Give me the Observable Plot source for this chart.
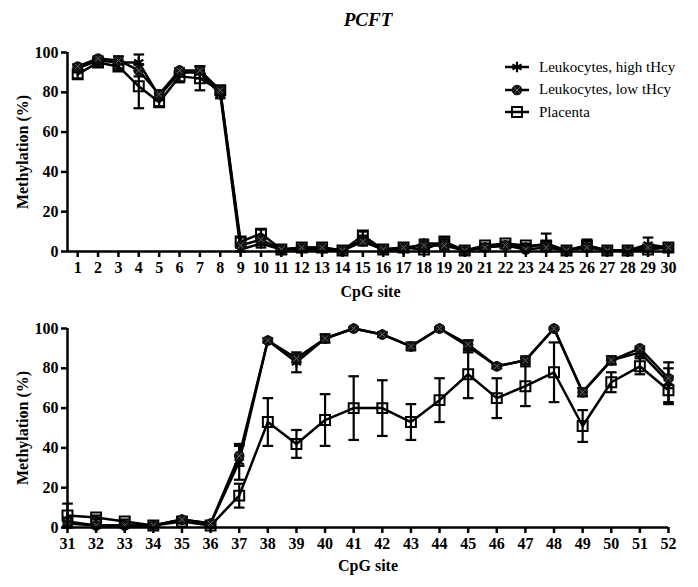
<!DOCTYPE html>
<html><head><meta charset="utf-8">
<script src="https://cdn.jsdelivr.net/npm/d3@7"></script>
<script src="https://cdn.jsdelivr.net/npm/@observablehq/plot@0.6"></script>
<style>
body{margin:0;background:#fff;}
#wrap{position:relative;width:698px;height:587px;background:#fff;font-family:"Liberation Serif",Times,"Times New Roman","DejaVu Serif",serif;overflow:hidden;}
#title{position:absolute;left:318px;width:100px;top:8px;text-align:center;font-size:19px;font-weight:bold;font-style:italic;line-height:24px;}
#top{position:absolute;left:0;top:0;z-index:2;}
#bot{position:absolute;left:0;top:290px;z-index:1;}
#legend{position:absolute;left:505px;top:56px;font-size:15px;z-index:3;}
#legend .row{display:flex;align-items:center;height:22.5px;}
#legend .row span{margin-left:6px;white-space:nowrap;}
#wrap svg, #wrap svg text{font-family:"Liberation Serif",Times,"Times New Roman","DejaVu Serif",serif !important;}
svg g[aria-label="x-axis label"] text, svg g[aria-label="y-axis label"] text{font-size:16px;}
</style></head>
<body><div id="wrap"><div id="top"></div><div id="bot"></div><div id="title">PCFT</div><div id="legend"></div></div>
<script>
const seriesNames = ["Leukocytes, high tHcy", "Leukocytes, low tHcy", "Placenta"];
const yTicks = [0, 20, 40, 60, 80, 100];

const sitesTop = [1,2,3,4,5,6,7,8,9,10,11,12,13,14,15,16,17,18,19,20,21,22,23,24,25,26,27,28,29,30];
const highTop   = [92,96,95,95,78,90,90,79,1,4,1,1,1,0.5,6,1,1,4,4,0.5,2,3,2,4,0.5,3,0.5,0.5,3.5,2];
const highTopSD = [2,2,3,4,2,2,3,2,1,2,1,1,1,0.5,2,1,1,2,2,0.5,1,1,1,5,0.5,2,0.5,0.5,3.5,1];
const lowTop    = [93,97,96,91,79,91,91,81,3,6,1,2,2,0.5,5,1,2,3,3,0.5,2,3,1,2,0.5,2,0.5,0.5,2,2];
const lowTopSD  = [1,1,2,3,2,1,2,1,1,2,1,1,1,0.5,2,1,1,2,2,0.5,1,1,1,1,0.5,1,0.5,0.5,1,1];
const placTop   = [89,95,93,83,75,88,87,81,5,9,1,2,2,0.5,8,1,2,1,5,0.5,3,4,3,3,0.5,3,0.5,0.5,1,2];
const placTopSD = [2,2,2,11,2,3,6,2,2,2,1,1,1,0.5,2,1,1,1,2,0.5,1,1,1,2,0.5,3,0.5,0.5,1,1];

const sitesBot = [31,32,33,34,35,36,37,38,39,40,41,42,43,44,45,46,47,48,49,50,51,52];
const highBot   = [2,1,1,1,4,2,33,94,83,95,100,97,91,100,91,81,84,100,68,84,88,73];
const highBotSD = [2,1,1,1,1,1,9,1,5,2,0.5,1,2,0.5,3,1,2,0.5,2,2,2,10];
const lowBot    = [3,1,1,1,4,2,36,94,85,95,100,97,91,100,92,81,84,100,68,84,90,75];
const lowBotSD  = [2,1,1,1,1,1,5,1,2,2,0.5,1,1,0.5,2,1,1,0.5,2,2,1,5];
const placBot   = [6,5,3,1,3,1,16,53,42,54,60,60,53,64,77,65,71,78,51,73,81,69];
const placBotSD = [6,1,1,1,1,1,6,12,7,13,16,14,9,11,12,10,10,15,8,5,4,7];

function rowsOf(sites, vals, sds, name) {
  return sites.map((s, i) => ({site: s, v: vals[i], sd: sds[i], series: name}));
}
const cap = {draw(ctx, size) { const w = Math.sqrt(size); ctx.moveTo(-w, 0); ctx.lineTo(w, 0); }};

function panel(o) {
  const H = rowsOf(o.sites, o.high, o.highSD, seriesNames[0]);
  const L = rowsOf(o.sites, o.low, o.lowSD, seriesNames[1]);
  const P = rowsOf(o.sites, o.plac, o.placSD, seriesNames[2]);
  const all = [...P, ...H, ...L];
  const lo = d => Math.max(0, d.v - d.sd), hi = d => d.v + d.sd;
  return Plot.plot({
    width: 698, height: o.height,
    marginLeft: 67, marginRight: o.mr, marginTop: o.mt, marginBottom: o.mb,
    style: {fontFamily: '"Liberation Serif",Times,"Times New Roman",serif', fontSize: "16px", fontWeight: "bold", color: "black", background: "transparent", overflow: "visible"},
    x: {domain: o.xDomain},
    y: {domain: [0, 100]},
    marks: [
      Plot.ruleX(all, {x: "site", y1: lo, y2: hi, stroke: "black", strokeWidth: 2.2}),
      Plot.dot(all, {x: "site", y: hi, symbol: cap, r: 3, stroke: "black", fill: "none", strokeWidth: 2.2}),
      Plot.dot(all, {x: "site", y: lo, symbol: cap, r: 3, stroke: "black", fill: "none", strokeWidth: 2.2}),
      Plot.line(all, {x: "site", y: "v", z: "series", stroke: "black", strokeWidth: 2.5}),
      Plot.dot(P, {x: "site", y: "v", symbol: "square", r: 5.6, stroke: "black", fill: "none", strokeWidth: 2}),
      Plot.dot(H, {x: "site", y: "v", symbol: "asterisk", r: 5, stroke: "black", strokeWidth: 2.2}),
      Plot.dot(L, {x: "site", y: "v", symbol: "circle", r: 5.3, fill: "#111", stroke: "none"}),
      Plot.dot(L, {x: "site", y: "v", symbol: "times", r: 2.6, stroke: "#666", strokeWidth: 1}),
      Plot.ruleY([0], {stroke: "black", strokeWidth: 2.5}),
      Plot.ruleX([o.xDomain[0]], {stroke: "black", strokeWidth: 2.5}),
      Plot.axisY({ticks: yTicks, tickSize: 6, tickPadding: 3, strokeWidth: 2.5, label: "Methylation (%)", labelAnchor: "center", labelOffset: 51, labelArrow: "none"}),
      Plot.axisX({ticks: o.sites, tickSize: 6, tickPadding: 4, strokeWidth: 2.5, tickFormat: d => String(d), label: "CpG site", labelAnchor: "center", labelOffset: o.xlo, labelArrow: "none"})
    ]
  });
}

document.getElementById("top").append(panel({
  sites: sitesTop, high: highTop, highSD: highTopSD, low: lowTop, lowSD: lowTopSD, plac: placTop, placSD: placTopSD,
  xDomain: [0.5, 30.25], height: 290, mt: 52, mb: 39, mr: 25, xlo: 45
}));
document.getElementById("bot").append(panel({
  sites: sitesBot, high: highBot, highSD: highBotSD, low: lowBot, lowSD: lowBotSD, plac: placBot, placSD: placBotSD,
  xDomain: [31, 52], height: 297, mt: 38, mb: 60, mr: 30, xlo: 43
}));

// legend
const legend = d3.select("#legend");
const symDefs = [
  {type: d3.symbolAsterisk, size: Math.PI * 25, fill: "none", stroke: "black", sw: 2.2},
  {type: d3.symbolCircle, size: Math.PI * 28, fill: "#111", stroke: "none", sw: 0, inner: true},
  {type: d3.symbolSquare, size: Math.PI * 5.6 * 5.6, fill: "none", stroke: "black", sw: 2}
];
seriesNames.forEach((name, i) => {
  const row = legend.append("div").attr("class", "row");
  const s = row.append("svg").attr("width", 28).attr("height", 16);
  s.append("line").attr("x1", 0).attr("x2", 24).attr("y1", 8).attr("y2", 8).attr("stroke", "black").attr("stroke-width", 2.5);
  const d = symDefs[i];
  s.append("path").attr("transform", "translate(12,8)").attr("d", d3.symbol(d.type, d.size)())
    .attr("fill", d.fill).attr("stroke", d.stroke).attr("stroke-width", d.sw);
  if (d.inner) s.append("path").attr("transform", "translate(12,8)").attr("d", d3.symbol(d3.symbolTimes, Math.PI * 2.6 * 2.6)())
    .attr("fill", "none").attr("stroke", "#666").attr("stroke-width", 1);
  row.append("span").text(name);
});
</script>
</body></html>
